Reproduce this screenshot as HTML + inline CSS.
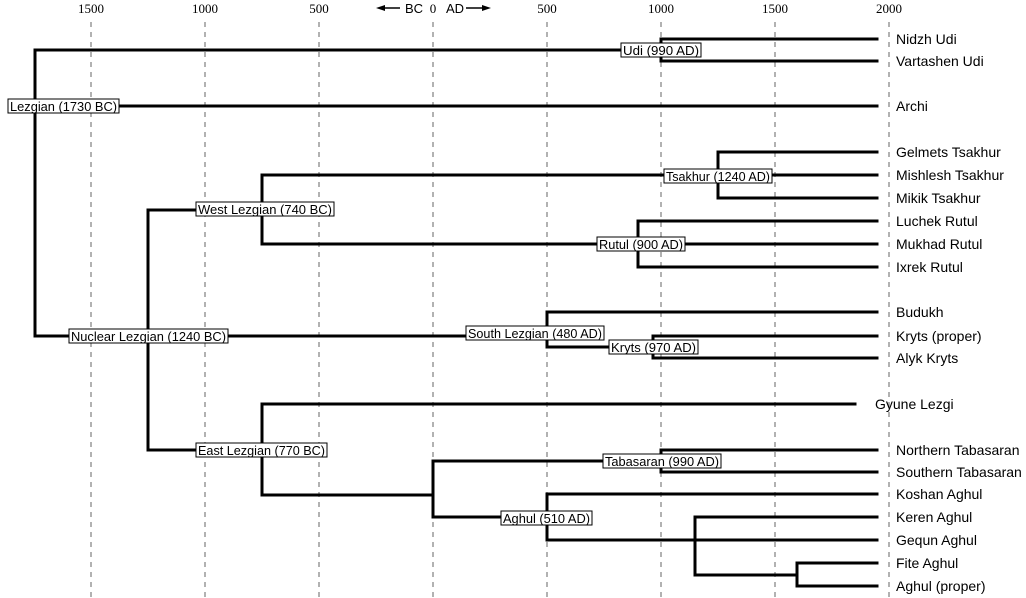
<!DOCTYPE html>
<html><head><meta charset="utf-8"><style>
html,body{margin:0;padding:0;background:#fff;}
svg{display:block;}
.ax{font-family:"Liberation Serif",serif;font-size:13px;fill:#000;}
.lf{font-family:"Liberation Sans",sans-serif;font-size:14px;fill:#000;}
.nl{font-family:"Liberation Sans",sans-serif;font-size:13px;fill:#000;}
.g{stroke:#999;stroke-width:1.5;stroke-dasharray:5,5;}
.t{stroke:#000;stroke-width:3;fill:none;stroke-linecap:square;}
.bx{fill:#fff;stroke:#000;stroke-width:1;}
</style></head><body>
<svg width="1026" height="598" viewBox="0 0 1026 598" xmlns="http://www.w3.org/2000/svg">
<g class="g">
<line x1="91" y1="22" x2="91" y2="598"/><line x1="205" y1="22" x2="205" y2="598"/>
<line x1="319" y1="22" x2="319" y2="598"/><line x1="433" y1="22" x2="433" y2="598"/>
<line x1="547" y1="22" x2="547" y2="598"/><line x1="661" y1="22" x2="661" y2="598"/>
<line x1="775" y1="22" x2="775" y2="598"/><line x1="889" y1="22" x2="889" y2="598"/>
</g>
<g class="ax" text-anchor="middle">
<text x="91" y="13">1500</text><text x="205" y="13">1000</text><text x="319" y="13">500</text>
<text x="433" y="13">0</text><text x="547" y="13">500</text><text x="661" y="13">1000</text>
<text x="775" y="13">1500</text><text x="889" y="13">2000</text>
</g>
<g class="lf" style="font-size:13px">
<text x="405" y="13">BC</text><text x="446" y="13">AD</text>
</g>
<g stroke="#000" stroke-width="1.5">
<line x1="382" y1="8" x2="400" y2="8"/>
<line x1="466" y1="8" x2="484" y2="8"/>
</g>
<polygon points="376,8 385,5 385,11" fill="#000"/>
<polygon points="491,8 482,5 482,11" fill="#000"/>

<g class="t">
<polyline points="877,39 661,39 661,61 877,61"/>
<polyline points="661,50 35,50 35,336 547,336"/>
<line x1="35" y1="106" x2="877" y2="106"/>
<polyline points="148,210 148,450"/>
<line x1="148" y1="210" x2="262" y2="210"/>
<polyline points="718,175 262,175 262,244 638,244"/>
<polyline points="877,152 718,152 718,198 877,198"/>
<line x1="718" y1="175" x2="877" y2="175"/>
<polyline points="877,221 638,221 638,267 877,267"/>
<line x1="638" y1="244" x2="877" y2="244"/>
<polyline points="877,312 547,312 547,347 653,347"/>
<polyline points="877,336 653,336 653,358 877,358"/>
<line x1="148" y1="450" x2="262" y2="450"/>
<polyline points="855,404 262,404 262,495 433,495"/>
<polyline points="661,461 433,461 433,517 547,517"/>
<polyline points="877,450 661,450 661,472 877,472"/>
<polyline points="877,494 547,494 547,540 695,540"/>
<polyline points="877,517 695,517 695,575 797,575"/>
<line x1="695" y1="540" x2="877" y2="540"/>
<polyline points="877,563 797,563 797,586 877,586"/>
</g>

<g>
<rect class="bx" x="8" y="99" width="111" height="14"/><text class="nl" x="10" y="111" textLength="107" lengthAdjust="spacingAndGlyphs">Lezgian (1730 BC)</text>
<rect class="bx" x="621" y="43" width="80" height="14"/><text class="nl" x="623" y="55" textLength="76" lengthAdjust="spacingAndGlyphs">Udi (990 AD)</text>
<rect class="bx" x="196" y="202" width="138" height="14"/><text class="nl" x="198" y="214" textLength="134" lengthAdjust="spacingAndGlyphs">West Lezgian (740 BC)</text>
<rect class="bx" x="664" y="169" width="108" height="14"/><text class="nl" x="666" y="181" textLength="104" lengthAdjust="spacingAndGlyphs">Tsakhur (1240 AD)</text>
<rect class="bx" x="597" y="237" width="88" height="14"/><text class="nl" x="599" y="249" textLength="84" lengthAdjust="spacingAndGlyphs">Rutul (900 AD)</text>
<rect class="bx" x="69" y="329" width="159" height="14"/><text class="nl" x="71" y="341" textLength="155" lengthAdjust="spacingAndGlyphs">Nuclear Lezgian (1240 BC)</text>
<rect class="bx" x="466" y="326" width="138" height="14"/><text class="nl" x="468" y="338" textLength="134" lengthAdjust="spacingAndGlyphs">South Lezgian (480 AD)</text>
<rect class="bx" x="609" y="340" width="89" height="14"/><text class="nl" x="611" y="352" textLength="85" lengthAdjust="spacingAndGlyphs">Kryts (970 AD)</text>
<rect class="bx" x="196" y="443" width="131" height="14"/><text class="nl" x="198" y="455" textLength="127" lengthAdjust="spacingAndGlyphs">East Lezgian (770 BC)</text>
<rect class="bx" x="603" y="454" width="118" height="14"/><text class="nl" x="605" y="466" textLength="114" lengthAdjust="spacingAndGlyphs">Tabasaran (990 AD)</text>
<rect class="bx" x="501" y="511" width="91" height="14"/><text class="nl" x="503" y="523" textLength="87" lengthAdjust="spacingAndGlyphs">Aghul (510 AD)</text>
</g>

<g class="lf">
<text x="896" y="44">Nidzh Udi</text>
<text x="896" y="66">Vartashen Udi</text>
<text x="896" y="111">Archi</text>
<text x="896" y="157">Gelmets Tsakhur</text>
<text x="896" y="180">Mishlesh Tsakhur</text>
<text x="896" y="203">Mikik Tsakhur</text>
<text x="896" y="226">Luchek Rutul</text>
<text x="896" y="249">Mukhad Rutul</text>
<text x="896" y="272">Ixrek Rutul</text>
<text x="896" y="317">Budukh</text>
<text x="896" y="341">Kryts (proper)</text>
<text x="896" y="363">Alyk Kryts</text>
<text x="875" y="409">Gyune Lezgi</text>
<text x="896" y="455">Northern Tabasaran</text>
<text x="896" y="477">Southern Tabasaran</text>
<text x="896" y="499">Koshan Aghul</text>
<text x="896" y="522">Keren Aghul</text>
<text x="896" y="545">Gequn Aghul</text>
<text x="896" y="568">Fite Aghul</text>
<text x="896" y="591">Aghul (proper)</text>
</g>
</svg>
</body></html>
